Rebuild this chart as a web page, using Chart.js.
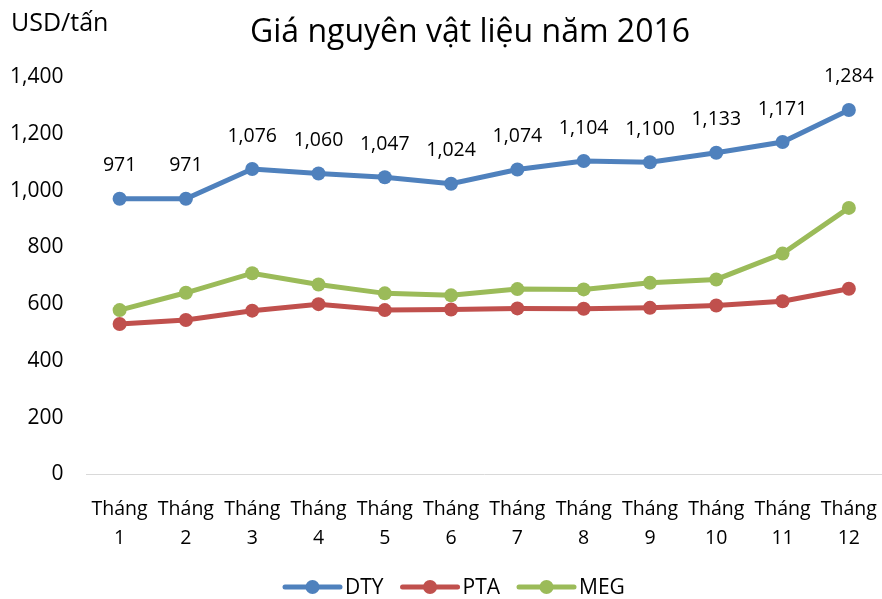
<!DOCTYPE html>
<html>
<head>
<meta charset="utf-8">
<script src="https://cdn.jsdelivr.net/npm/chart.js@4/dist/chart.umd.min.js"></script>
<style>
html,body{margin:0;padding:0;background:#fff;}
#wrap{width:882px;height:599px;position:relative;}
</style>
</head>
<body>
<div id="wrap"><canvas id="c" width="882" height="599"></canvas></div>
<script>
const categories = [["Tháng","1"],["Tháng","2"],["Tháng","3"],["Tháng","4"],["Tháng","5"],["Tháng","6"],["Tháng","7"],["Tháng","8"],["Tháng","9"],["Tháng","10"],["Tháng","11"],["Tháng","12"]];
const dty = [971, 971, 1076, 1060, 1047, 1024, 1074, 1104, 1100, 1133, 1171, 1284];
const pta = [530, 544, 577, 600, 579, 581, 585, 584, 587, 595, 610, 654];
const meg = [579, 640, 709, 669, 638, 631, 653, 652, 675, 687, 778, 939];
const seriesNames = ["DTY", "PTA", "MEG"];
const colors = ["#4F81BD", "#C0504D", "#9BBB59"];
const titleText = "Giá nguyên vật liệu năm 2016";
const unitText = "USD/tấn";
const FONT = "'Open Sans', sans-serif";

const extras = {
  id: 'extras',
  afterDatasetsDraw(chart) {
    const ctx = chart.ctx;
    ctx.save();
    const meta = chart.getDatasetMeta(0);
    ctx.font = "19.5px " + FONT;
    ctx.fillStyle = "#000";
    ctx.textAlign = "center";
    ctx.textBaseline = "middle";
    meta.data.forEach((pt, i) => {
      ctx.fillText(dty[i].toLocaleString('en-US'), pt.x, pt.y - 33);
    });
    ctx.font = "32px " + FONT;
    ctx.fillText(titleText, 470, 33);
    ctx.font = "25px " + FONT;
    ctx.textAlign = "left";
    ctx.fillText(unitText, 11, 24);
    ctx.font = "21px " + FONT;
    const y = 587;
    let x = 285;
    chart.data.datasets.forEach((ds) => {
      ctx.strokeStyle = ds.borderColor;
      ctx.lineWidth = 5;
      ctx.lineCap = "round";
      ctx.beginPath();
      ctx.moveTo(x, y);
      ctx.lineTo(x + 55, y);
      ctx.stroke();
      ctx.fillStyle = ds.borderColor;
      ctx.beginPath();
      ctx.arc(x + 27.5, y, 7, 0, Math.PI * 2);
      ctx.fill();
      ctx.fillStyle = "#000";
      ctx.textAlign = "left";
      ctx.fillText(ds.label, x + 60, y + 1);
      x += 60 + ctx.measureText(ds.label).width + 19;
    });
    ctx.restore();
  }
};

new Chart(document.getElementById('c'), {
  type: 'line',
  data: {
    labels: categories,
    datasets: [dty, pta, meg].map((d, i) => ({
      label: seriesNames[i],
      data: d,
      borderColor: colors[i],
      backgroundColor: colors[i],
      borderWidth: 5,
      pointRadius: 7,
      pointHoverRadius: 7,
      pointBackgroundColor: colors[i],
      pointBorderColor: colors[i],
      pointBorderWidth: 0,
      tension: 0
    }))
  },
  options: {
    responsive: false,
    animation: false,
    devicePixelRatio: 1,
    layout: { autoPadding: false, padding: { top: 77, left: -13, right: 0, bottom: 26 } },
    plugins: { legend: { display: false }, title: { display: false }, tooltip: { enabled: false } },
    scales: {
      x: {
        offset: true,
        grid: { display: false, drawTicks: false },
        border: { display: true, color: "#D9D9D9", width: 1 },
        ticks: { color: "#000", font: { family: FONT, size: 19.5, lineHeight: 1.5 }, padding: 20, maxRotation: 0, autoSkip: false },
        afterFit(scale) { scale.paddingLeft = 0; scale.paddingRight = 0; }
      },
      y: {
        min: 0, max: 1400,
        grid: { display: false, drawTicks: false },
        border: { display: false },
        ticks: { stepSize: 200, color: "#000", font: { family: FONT, size: 21 }, padding: 23,
          callback: v => v.toLocaleString('en-US') }
      }
    }
  },
  plugins: [extras]
});
</script>
</body>
</html>
